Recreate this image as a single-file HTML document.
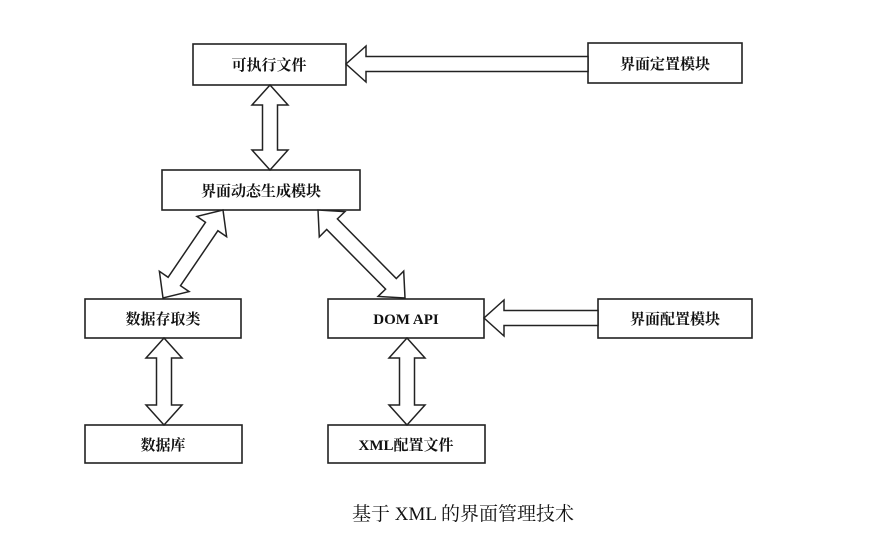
<!DOCTYPE html>
<html><head><meta charset="utf-8"><style>
body{margin:0;background:#fff;}
svg{display:block}
text{font-family:"Liberation Serif","Noto Serif CJK SC",serif;font-size:15px;font-weight:bold;fill:#111;}
</style></head><body>
<svg id="s" width="875" height="552" viewBox="0 0 875 552" xmlns="http://www.w3.org/2000/svg">
<g fill="#fff" stroke="#222" stroke-width="1.6">
<rect x="193" y="44" width="153" height="41"/>
<rect x="588" y="43" width="154" height="40"/>
<rect x="162" y="170" width="198" height="40"/>
<rect x="85" y="299" width="156" height="39"/>
<rect x="328" y="299" width="156" height="39"/>
<rect x="598" y="299" width="154" height="39"/>
<rect x="85" y="425" width="157" height="38"/>
<rect x="328" y="425" width="157" height="38"/>
</g>
<g id="arrows" fill="#fff" stroke="#222" stroke-width="1.5"></g>
<text x="269" y="70" text-anchor="middle">可执行文件</text>
<text x="665" y="69" text-anchor="middle">界面定置模块</text>
<text x="261" y="196" text-anchor="middle">界面动态生成模块</text>
<text x="163" y="324" text-anchor="middle">数据存取类</text>
<text x="406" y="324" text-anchor="middle">DOM API</text>
<text x="675" y="324" text-anchor="middle">界面配置模块</text>
<text x="163" y="450" text-anchor="middle">数据库</text>
<text x="406" y="450" text-anchor="middle">XML配置文件</text>
<text x="463" y="520" text-anchor="middle" style="font-weight:normal;font-size:19px">基于 XML 的界面管理技术</text>
</svg>
<script>
function arrow(x1,y1,x2,y2,dbl){
 var dx=x2-x1,dy=y2-y1,L=Math.hypot(dx,dy),ux=dx/L,uy=dy/L,px=-uy,py=ux;
 var sw=7.5,hw=18,hl=20;
 function P(t,o){return (x1+ux*t+px*o).toFixed(1)+","+(y1+uy*t+py*o).toFixed(1);}
 var pts=[];
 if(dbl){pts.push(P(0,0),P(hl,hw),P(hl,sw));}else{pts.push(P(0,sw));}
 pts.push(P(L-hl,sw),P(L-hl,hw),P(L,0),P(L-hl,-hw),P(L-hl,-sw));
 if(dbl){pts.push(P(hl,-sw),P(hl,-hw));}else{pts.push(P(0,-sw));}
 var g=document.getElementById('arrows');
 var p=document.createElementNS('http://www.w3.org/2000/svg','polygon');
 p.setAttribute('points',pts.join(' '));g.appendChild(p);
}
arrow(588,64,346,64,false);
arrow(598,318,484,318,false);
arrow(270,85,270,170,true);
arrow(223,210,163,298,true);
arrow(318,210,405,298,true);
arrow(164,338,164,425,true);
arrow(407,338,407,425,true);
</script>
</body></html>
